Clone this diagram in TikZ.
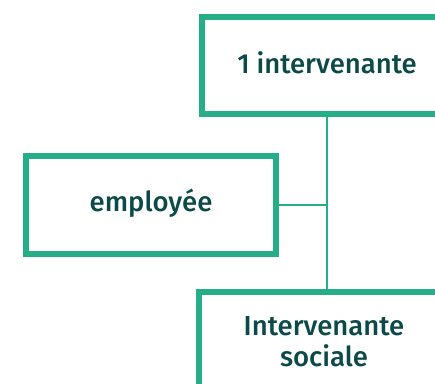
\documentclass[tikz,border=0pt]{standalone}
\usepackage{fontspec}
\setmainfont{Fira Sans Medium}
\definecolor{boxgreen}{HTML}{26AE88}
\definecolor{txt}{HTML}{0B4A48}
\begin{document}
\begin{tikzpicture}[x=1pt,y=-1pt,
  box/.style={draw=boxgreen,line width=6pt,fill=white,rectangle,inner sep=0pt,
    minimum width=250pt},
  label/.style={text=txt,font=\fontsize{27.5}{31}\selectfont,align=center,inner sep=0pt},
  link/.style={draw=boxgreen,line width=2pt}]
\clip (0,0) rectangle (435,383);
\useasboundingbox (0,0) rectangle (435,383);
\node[box,minimum height=97pt] (top) at (327,65.5) {};
\node[label] (toptxt) at (327,63) {1 intervenante};
\node[box,minimum height=98pt] (emp) at (151,205) {};
\node[label] (emptxt) at (151,203) {employée};
\node[box,minimum height=103pt] (bot) at (324,343.5) {};
\node[label] (bottxt) at (324,342) {Intervenante\\sociale};
\draw[link] (top.south -| 327,0) -- (327,0 |- bot.north);
\draw[link] (emp.east) -- (emp.east -| 327,0);
\end{tikzpicture}
\end{document}
